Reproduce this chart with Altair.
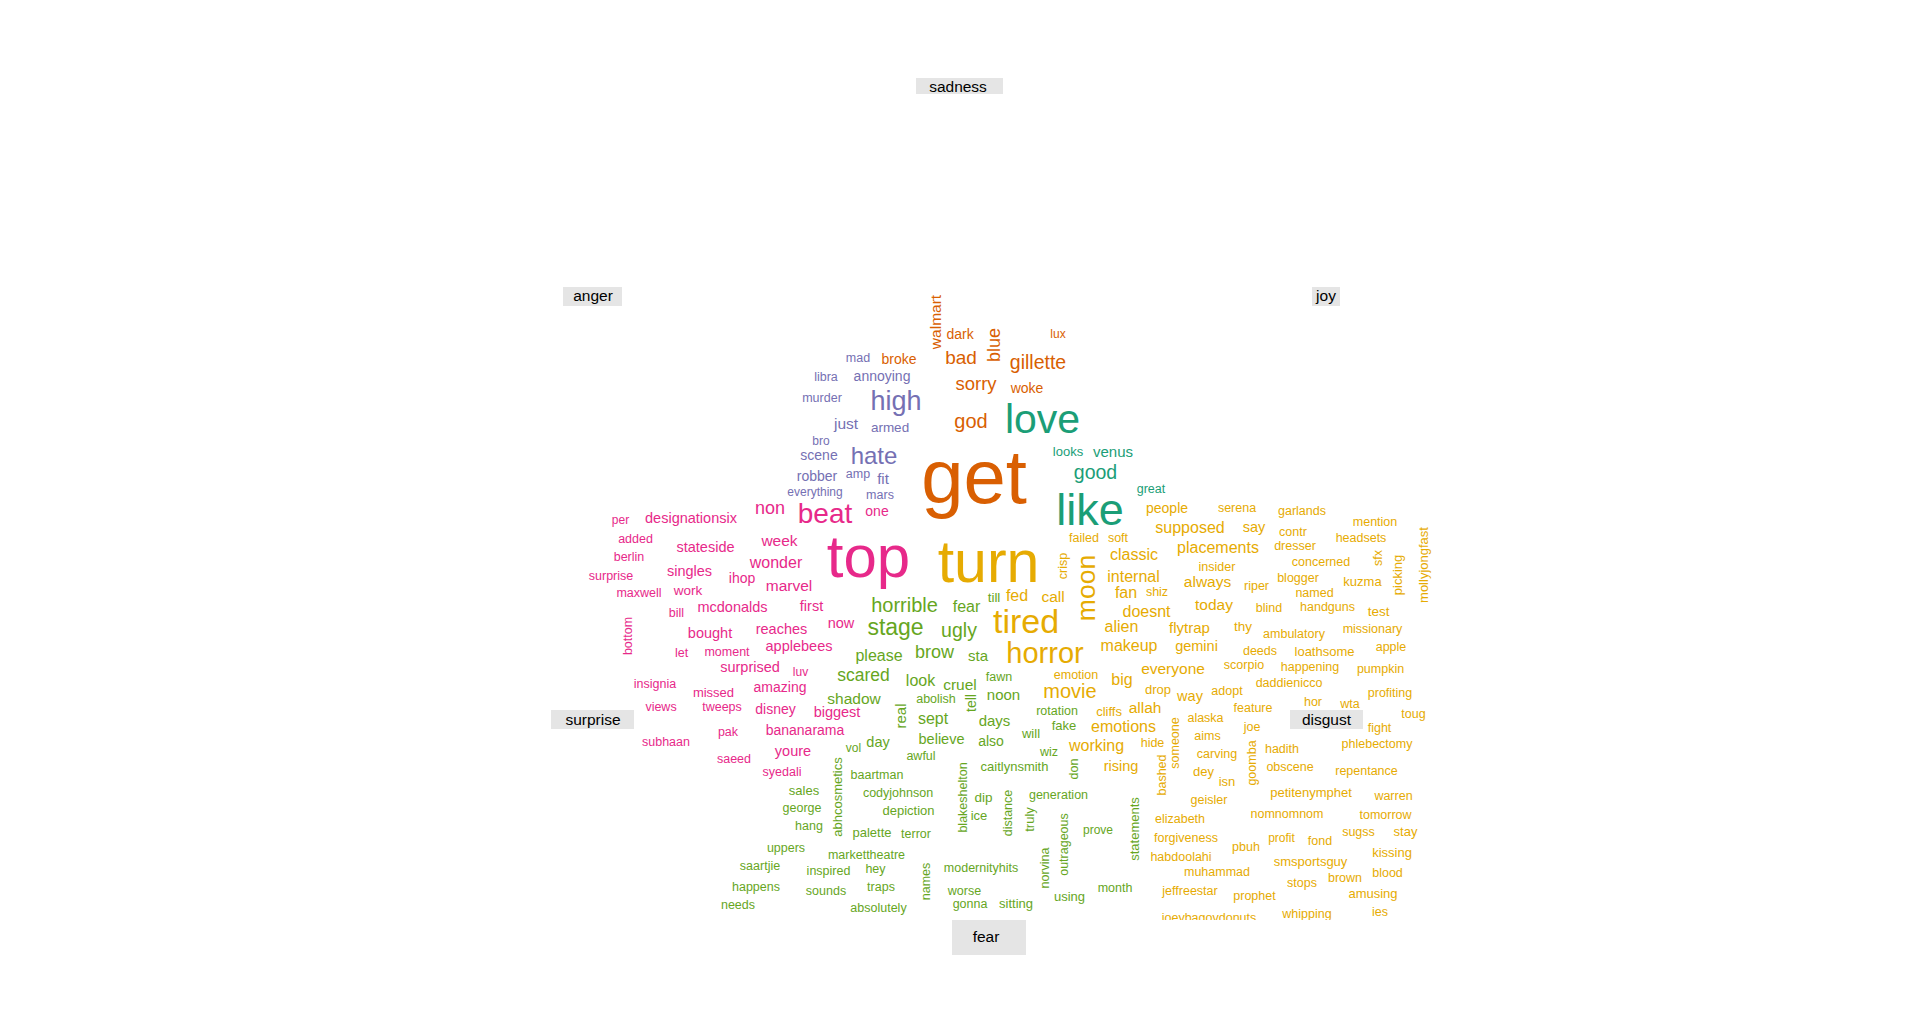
import altair as alt
import pandas as pd

# (word, x, y, size, angle) -- layout positions of the comparison word cloud
ANGER = [
    ("mad", 858, 358, 12.5, 0), ("libra", 826, 377, 12.5, 0), ("murder", 822, 398, 12.5, 0),
    ("annoying", 882, 377, 14, 0), ("high", 896, 402, 27, 0), ("just", 846, 424, 15.5, 0),
    ("armed", 890, 428, 13.5, 0), ("bro", 821, 441, 12, 0), ("scene", 819, 456, 14, 0),
    ("hate", 874, 457, 24, 0), ("robber", 817, 477, 14, 0), ("amp", 858, 474, 12.5, 0),
    ("fit", 883, 479, 15, 0), ("everything", 815, 492, 12, 0), ("mars", 880, 495, 12.5, 0),
]
SADNESS = [
    ("walmart", 936, 322, 15.5, 270), ("dark", 960, 335, 14, 0), ("lux", 1058, 334, 12, 0),
    ("blue", 995, 345, 18, 270), ("broke", 899, 360, 14, 0), ("bad", 961, 358, 19, 0),
    ("gillette", 1038, 363, 19.5, 0), ("sorry", 976, 384, 18.5, 0), ("woke", 1027, 389, 14, 0),
    ("god", 971, 422, 20, 0), ("get", 974, 480, 76, 0),
]
JOY = [
    ("love", 1042.5, 421, 41, 0), ("looks", 1068, 452, 13, 0), ("venus", 1113, 452, 15, 0),
    ("good", 1095.5, 473, 19.5, 0), ("great", 1151, 489, 12.5, 0), ("like", 1090, 511, 45, 0),
]
SURPRISE = [
    ("non", 770, 509, 18, 0), ("beat", 825, 515, 28, 0), ("one", 877, 512, 14, 0),
    ("top", 868.5, 559, 60, 0), ("per", 620.5, 520, 12, 0), ("designationsix", 691, 519, 14.5, 0),
    ("added", 635.5, 539, 12.5, 0), ("stateside", 705.5, 548, 14.5, 0), ("week", 779.5, 541, 15.5, 0),
    ("berlin", 629, 557, 12.5, 0), ("wonder", 776, 563, 16, 0), ("surprise", 611, 576, 12.5, 0),
    ("singles", 689.5, 572, 14.5, 0), ("ihop", 742, 579, 14, 0), ("marvel", 789, 586, 15.5, 0),
    ("maxwell", 639, 593, 12.5, 0), ("work", 688, 591, 13.5, 0), ("bill", 676.5, 613, 12.5, 0),
    ("mcdonalds", 732.5, 608, 14.5, 0), ("first", 811.5, 607, 14.5, 0), ("bottom", 628, 636, 12.5, 270),
    ("now", 841, 624, 14.5, 0), ("bought", 710, 634, 14.5, 0), ("reaches", 781.5, 630, 14.5, 0),
    ("let", 681.5, 653, 12.5, 0), ("moment", 727, 652, 12.5, 0), ("applebees", 799, 647, 14.5, 0),
    ("surprised", 750, 668, 14.5, 0), ("luv", 800.5, 672, 12, 0), ("insignia", 655, 684, 12.5, 0),
    ("amazing", 780, 688, 14, 0), ("missed", 713.5, 693, 13, 0), ("views", 661, 707, 12.5, 0),
    ("tweeps", 722, 707, 12.5, 0), ("disney", 775.5, 710, 14, 0), ("biggest", 837, 713, 14.5, 0),
    ("pak", 728, 732, 12.5, 0), ("bananarama", 805, 731, 14, 0), ("subhaan", 666, 742, 12.5, 0),
    ("youre", 793, 752, 14.5, 0), ("saeed", 734, 759, 12.5, 0), ("syedali", 782, 772, 12.5, 0),
]
FEAR = [
    ("horrible", 904.5, 606, 20, 0), ("fear", 966.5, 607, 16, 0), ("till", 994, 598, 13.5, 0),
    ("stage", 895.5, 628, 23, 0), ("ugly", 959, 631, 19.5, 0), ("please", 879, 656, 16, 0),
    ("brow", 934.5, 653, 18, 0), ("sta", 978, 656, 15, 0), ("scared", 863.5, 676, 17.5, 0),
    ("look", 920.5, 681, 16, 0), ("cruel", 960, 685, 15.5, 0), ("fawn", 999, 677, 12.5, 0),
    ("shadow", 854, 699, 15.5, 0), ("abolish", 936, 699, 12.5, 0), ("tell", 972, 703, 14, 270),
    ("noon", 1003.5, 695, 15, 0), ("real", 901, 716, 15, 270), ("sept", 933, 719, 16, 0),
    ("days", 994.5, 721, 15, 0), ("rotation", 1057, 711, 12.5, 0), ("fake", 1064, 726, 13, 0),
    ("will", 1031, 734, 13, 0), ("day", 878, 743, 14.5, 0), ("believe", 941.5, 740, 14.5, 0),
    ("also", 991, 742, 14, 0), ("vol", 853.5, 748, 12, 0), ("awful", 921, 756, 12.5, 0),
    ("wiz", 1049, 752, 12.5, 0), ("caitlynsmith", 1014.5, 767, 13, 0), ("don", 1074, 769, 12.5, 270),
    ("baartman", 877, 775, 12.5, 0), ("blakeshelton", 963, 797.5, 12.5, 270),
    ("codyjohnson", 898, 793, 12.5, 0), ("dip", 983.5, 798, 13.5, 0), ("distance", 1008, 813, 12.5, 270),
    ("generation", 1058.5, 795, 12.5, 0), ("ice", 979, 816, 13, 0), ("truly", 1029.5, 819.5, 13, 270),
    ("depiction", 908.5, 811, 13, 0), ("abhcosmetics", 838, 797, 13, 270), ("sales", 804, 791, 13, 0),
    ("george", 802, 808, 12.5, 0), ("hang", 809, 826, 12.5, 0), ("palette", 872, 833, 13, 0),
    ("terror", 916, 834, 12.5, 0), ("outrageous", 1064, 844.5, 12.5, 270), ("prove", 1098, 830, 12, 0),
    ("statements", 1135, 829, 13, 270), ("uppers", 786, 848, 12.5, 0), ("markettheatre", 866.5, 855, 12.5, 0),
    ("norvina", 1045, 868, 12.5, 270), ("saartjie", 760, 866, 12.5, 0), ("inspired", 828.5, 871, 12.5, 0),
    ("hey", 875.5, 869, 12.5, 0), ("names", 926, 881.5, 12.5, 270), ("modernityhits", 981, 868, 12.5, 0),
    ("happens", 756, 887, 12.5, 0), ("traps", 881, 887, 12.5, 0), ("month", 1115, 888, 12.5, 0),
    ("sounds", 826, 891, 12.5, 0), ("worse", 964.5, 891, 12.5, 0), ("using", 1069.5, 897, 13, 0),
    ("needs", 738, 905, 12.5, 0), ("gonna", 970, 904, 12.5, 0), ("sitting", 1016, 904, 13, 0),
    ("absolutely", 878.5, 908, 12.5, 0),
]
DISGUST = [
    ("turn", 988.5, 564, 59, 0), ("tired", 1026, 623, 34, 0), ("horror", 1045, 654, 29, 0),
    ("moon", 1087, 588, 26.5, 270), ("crisp", 1063, 566, 12.5, 270), ("failed", 1084, 538, 12.5, 0),
    ("soft", 1118, 538, 12.5, 0), ("classic", 1134, 555, 16, 0), ("internal", 1133.5, 577, 16, 0),
    ("fan", 1126, 593, 16, 0), ("shiz", 1157, 592, 12.5, 0), ("doesnt", 1146.5, 612, 16, 0),
    ("alien", 1121.5, 627, 16, 0), ("makeup", 1129, 646, 16, 0), ("fed", 1017, 596, 16, 0),
    ("call", 1053, 597, 15.5, 0), ("emotion", 1076, 675, 12.5, 0), ("big", 1122, 680, 16, 0),
    ("movie", 1070, 692, 20, 0), ("drop", 1158, 690, 13, 0), ("cliffs", 1109, 712, 13, 0),
    ("allah", 1145, 708, 15.5, 0), ("emotions", 1123.5, 727, 16, 0), ("working", 1096.5, 746, 16, 0),
    ("hide", 1152.5, 743, 12.5, 0), ("rising", 1121, 767, 14.5, 0), ("bashed", 1162, 775, 12.5, 270),
    ("people", 1167, 509, 14, 0), ("serena", 1237, 508, 12.5, 0), ("garlands", 1302, 511, 12.5, 0),
    ("mention", 1375, 522, 12.5, 0), ("supposed", 1190, 528, 16, 0), ("say", 1254, 528, 14.5, 0),
    ("contr", 1293, 532, 12.5, 0), ("headsets", 1361, 538, 12.5, 0), ("placements", 1218, 548, 16, 0),
    ("dresser", 1295, 546, 12.5, 0), ("sfx", 1378, 558, 12.5, 270), ("picking", 1398, 575, 13, 270),
    ("mollyjongfast", 1424, 565, 13, 270), ("insider", 1217, 567, 12.5, 0), ("concerned", 1321, 562, 12.5, 0),
    ("always", 1207.5, 582, 15.5, 0), ("riper", 1256.5, 586, 12.5, 0), ("blogger", 1298, 578, 12.5, 0),
    ("kuzma", 1362.5, 582, 13, 0), ("named", 1314.5, 593, 12.5, 0), ("today", 1214, 605, 15.5, 0),
    ("blind", 1269, 608, 12.5, 0), ("handguns", 1327.5, 607, 12.5, 0), ("test", 1378.5, 612, 13.5, 0),
    ("flytrap", 1189.5, 628, 15, 0), ("thy", 1243, 627, 13.5, 0), ("ambulatory", 1294, 634, 12.5, 0),
    ("missionary", 1372.5, 629, 12.5, 0), ("gemini", 1196.5, 647, 14.5, 0), ("deeds", 1260, 651, 12.5, 0),
    ("loathsome", 1324.5, 652, 13, 0), ("apple", 1391, 647, 12.5, 0), ("everyone", 1173, 669, 15.5, 0),
    ("scorpio", 1244, 665, 12.5, 0), ("happening", 1310, 667, 12.5, 0), ("pumpkin", 1380.5, 669, 12.5, 0),
    ("daddienicco", 1289, 683, 12.5, 0), ("way", 1190, 697, 14.5, 0), ("adopt", 1227, 691, 12.5, 0),
    ("profiting", 1390, 693, 12.5, 0), ("hor", 1313, 702, 12.5, 0), ("wta", 1350, 704, 12.5, 0),
    ("feature", 1253, 708, 12.5, 0), ("toug", 1413.5, 714, 12.5, 0), ("alaska", 1205.5, 718, 12.5, 0),
    ("someone", 1175, 743, 12.5, 270), ("joe", 1252, 727, 12.5, 0), ("fight", 1379.5, 728, 12.5, 0),
    ("aims", 1207.5, 736, 12.5, 0), ("phlebectomy", 1377, 744, 12.5, 0), ("goomba", 1252, 763, 12.5, 270),
    ("hadith", 1282, 749, 12.5, 0), ("carving", 1217, 754, 12.5, 0), ("obscene", 1290, 767, 12.5, 0),
    ("repentance", 1366.5, 771, 12.5, 0), ("dey", 1203.5, 772, 13, 0), ("isn", 1227, 782, 13, 0),
    ("petitenymphet", 1311, 793, 13, 0), ("warren", 1393.5, 796, 12.5, 0), ("geisler", 1209, 800, 12.5, 0),
    ("nomnomnom", 1287, 814, 12.5, 0), ("tomorrow", 1385.5, 815, 12.5, 0), ("elizabeth", 1180, 819, 12.5, 0),
    ("sugss", 1358.5, 832, 12.5, 0), ("stay", 1405.5, 832, 13, 0), ("forgiveness", 1186, 838, 12.5, 0),
    ("profit", 1281.5, 838, 12, 0), ("fond", 1320, 841, 12.5, 0), ("pbuh", 1246, 847, 12.5, 0),
    ("kissing", 1392, 853, 13, 0), ("habdoolahi", 1181, 857, 12.5, 0), ("smsportsguy", 1310.5, 862, 13, 0),
    ("muhammad", 1217, 872, 12.5, 0), ("blood", 1387.5, 873, 12.5, 0), ("brown", 1345, 878, 12.5, 0),
    ("stops", 1302, 883, 12.5, 0), ("jeffreestar", 1190, 891, 12.5, 0), ("amusing", 1373, 894, 13, 0),
    ("prophet", 1254.5, 896, 12.5, 0), ("ies", 1380, 912, 12.5, 0), ("whipping", 1307, 914, 12.5, 0),
    ("joeybagovdonuts", 1209, 918, 12.5, 0),
]

GROUPS = ["anger", "disgust", "fear", "joy", "sadness", "surprise"]
COLORS = ["#7570B3", "#E6AB02", "#66A61E", "#1B9E77", "#D95F02", "#E7298A"]

# group label boxes: (label, x0, x1, y0, y1, text_x, text_y)
LABELS = [
    ("sadness", 916, 1003, 78, 94, 958, 87),
    ("anger", 563, 622, 287, 306, 593, 296),
    ("joy", 1312, 1340, 287, 306, 1326, 296),
    ("surprise", 551, 634, 710, 729, 593, 720),
    ("disgust", 1290, 1363, 710, 729, 1326.5, 720),
    ("fear", 952, 1026, 920, 955, 986, 937),
]
# plot-region clip at the bottom right of the cloud
CLIP = [(1140, 1440, 920, 936)]

rows = []
for g, lst in zip(["anger", "sadness", "joy", "surprise", "fear", "disgust"],
                  [ANGER, SADNESS, JOY, SURPRISE, FEAR, DISGUST]):
    for w, x, y, s, a in lst:
        rows.append(dict(word=w, group=g, x=x, y=y, size=s, angle=a))
words_df = pd.DataFrame(rows)
labels_df = pd.DataFrame(LABELS, columns=["label", "x0", "x1", "y0", "y1", "tx", "ty"])
clip_df = pd.DataFrame(CLIP, columns=["x0", "x1", "y0", "y1"])

W, H = 1904, 990
xs = alt.Scale(domain=[8, 8 + W], nice=False, zero=False)
ys = alt.Scale(domain=[8, 8 + H], nice=False, zero=False, reverse=True)
FONT = "Liberation Sans"

boxes = alt.Chart(labels_df).mark_rect(color="#e5e5e5").encode(
    x=alt.X("x0:Q", scale=xs, axis=None), x2="x1:Q",
    y=alt.Y("y0:Q", scale=ys, axis=None), y2="y1:Q",
)
label_text = alt.Chart(labels_df).mark_text(
    font=FONT, fontSize=15.5, color="#000000", align="center", baseline="middle"
).encode(
    x=alt.X("tx:Q", scale=xs, axis=None),
    y=alt.Y("ty:Q", scale=ys, axis=None),
    text="label:N",
)
words = alt.Chart(words_df).mark_text(
    font=FONT, align="center", baseline="middle"
).encode(
    x=alt.X("x:Q", scale=xs, axis=None),
    y=alt.Y("y:Q", scale=ys, axis=None),
    text="word:N",
    size=alt.Size("size:Q", scale=None, legend=None),
    angle=alt.Angle("angle:Q", scale=None),
    color=alt.Color("group:N", scale=alt.Scale(domain=GROUPS, range=COLORS), legend=None),
)
clip = alt.Chart(clip_df).mark_rect(color="white").encode(
    x=alt.X("x0:Q", scale=xs, axis=None), x2="x1:Q",
    y=alt.Y("y0:Q", scale=ys, axis=None), y2="y1:Q",
)

chart = alt.layer(boxes, label_text, words, clip).properties(
    width=W, height=H, padding=0,
    autosize=alt.AutoSizeParams(type="none"),
    background="white",
).configure_view(stroke=None)

chart.save("out.html", embed_options={"renderer": "svg", "actions": False})
